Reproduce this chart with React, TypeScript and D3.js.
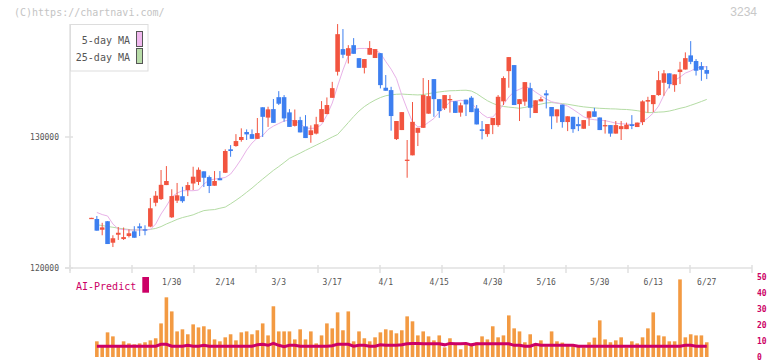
import React from 'react';
import * as d3 from 'd3';

// daily candles, oldest first (index 0 is the reference close with no volume)
const opens = [
  123800, 123740, 122920, 123570, 121930, 122540, 122210, 122440, 122800, 123180,
  122950, 123160, 124980, 125260, 126330, 123870, 125140, 125480, 125950, 126450,
  126570, 127380, 126940, 126280, 126850, 127270, 129060, 129310, 129770, 130380,
  130220, 129860, 132270, 131480, 132130, 133040, 133040, 131880, 130850, 131290,
  130810, 130150, 130260, 131140, 131750, 132990, 134980, 136710, 136200, 137010,
  136020, 135280, 136280, 136030, 136400, 133760, 133580, 129840, 130530, 128190,
  128600, 130320, 130700, 131780, 134420, 132890, 132190, 132880, 132730, 131860,
  132850, 133000, 132180, 130590, 130220, 130910, 130910, 132720, 135030, 135490,
  132510, 132700, 133730, 131830, 132720, 133330, 132290, 131580, 132470, 131140,
  131540, 130980, 130630, 131470, 131960, 131490, 130890, 130910, 130260, 130600,
  130600, 130970, 130760, 131140, 132700, 132510, 133200, 134140, 134860, 133960,
  134960, 135150, 136230, 135800, 135410, 135110,
];
const highs = [
  123830, 123970, 123450, 123570, 122500, 123130, 123090, 122950, 123190, 123410,
  123260, 125340, 125870, 127480, 127780, 126010, 126490, 126200, 126560, 127730,
  127680, 127380, 127060, 127400, 127400, 129060, 129380, 130220, 130660, 130580,
  130580, 131450, 132270, 132310, 132900, 133500, 133200, 132130, 132100, 131540,
  131670, 130890, 131540, 132740, 133020, 134210, 138620, 138240, 137010, 137550,
  136020, 135950, 137320, 136710, 136400, 134730, 133830, 131220, 131900, 129770,
  132670, 130700, 134500, 134350, 134420, 132890, 133200, 133210, 132730, 132620,
  132850, 133120, 132440, 131220, 130990, 131450, 133200, 134630, 136100, 135490,
  132890, 134190, 134140, 132800, 133070, 133580, 132290, 132110, 132470, 131580,
  131540, 131540, 131290, 131960, 132230, 131490, 131290, 130910, 131220, 131220,
  131100, 131670, 131100, 132800, 133070, 133200, 135030, 135110, 134860, 134780,
  135740, 136460, 137320, 135950, 135720, 135410,
];
const lows = [
  123800, 122850, 122500, 121830, 121600, 122140, 122140, 122330, 122310, 122440,
  122500, 123110, 124710, 125190, 126330, 123820, 124960, 124980, 125490, 125950,
  126330, 126180, 125720, 126280, 126700, 127250, 128490, 129260, 129640, 129770,
  129860, 129860, 130000, 130770, 131080, 132440, 131160, 130770, 130800, 130350,
  129920, 129560, 130200, 131140, 131750, 132990, 134690, 136020, 135610, 136350,
  135280, 134850, 136280, 136030, 133710, 133530, 130480, 129770, 130530, 126890,
  128600, 129310, 130700, 131780, 131540, 131460, 132060, 131860, 131840, 131550,
  131600, 131900, 130960, 129820, 130020, 130220, 130780, 132440, 133760, 132440,
  131220, 132380, 131460, 131830, 132720, 132180, 130600, 131090, 130710, 130450,
  130320, 130450, 130630, 130850, 131540, 130530, 130260, 130020, 130260, 129770,
  130600, 130600, 130760, 130910, 131860, 131900, 133150, 133150, 133710, 133450,
  134040, 135150, 135560, 134690, 134290, 134420,
];
const closes = [
  123830, 122850, 123100, 121830, 122270, 122690, 122360, 122650, 122310, 123030,
  122850, 124560, 125520, 126350, 126640, 125490, 125550, 125100, 126330, 126970,
  127500, 126890, 126260, 126640, 126700, 128930, 128930, 129690, 130000, 130200,
  129860, 130300, 131540, 132110, 131080, 132540, 131420, 130770, 131290, 130350,
  129920, 130510, 130970, 132130, 132440, 133730, 137850, 136280, 136780, 136350,
  135280, 135950, 136790, 136710, 133960, 133530, 131600, 131220, 131900, 128270,
  131160, 130700, 133200, 133120, 132890, 131980, 133200, 132900, 131840, 132420,
  132490, 131900, 130960, 130460, 130990, 131450, 133070, 134500, 136100, 132440,
  132890, 134190, 132230, 132800, 132890, 133180, 131580, 132110, 131140, 131580,
  130600, 130830, 131290, 131960, 131540, 130530, 130910, 130260, 130910, 130830,
  130940, 130840, 131100, 132720, 132820, 133200, 134340, 134860, 134040, 134780,
  135150, 136020, 135740, 135060, 135130, 134830,
];

const ma5 = [
  null, 124240, 124080, 123970, 123360, 122980, 122940, 122900, 122900, 122900,
  122900, 122940, 123360, 124120, 124730, 125420, 125720, 125900, 125900, 125900,
  125950, 126410, 126710, 126790, 126840, 126910, 127170, 127710, 128320, 129000,
  129540, 129920, 130110, 130570, 130830, 131030, 131220, 131290, 131220, 131030,
  130680, 130660, 130680, 130950, 131670, 132590, 133890, 135110, 136180, 136670,
  136760, 136760, 136760, 136630, 136400, 135760, 135180, 134460, 133200, 132130,
  131140, 130780, 130830, 131120, 131410, 131900, 132250, 132690, 132740, 132800,
  132740, 132590, 132170, 131750, 131480, 131520, 131980, 132480, 133050, 133470,
  133640, 133830, 133730, 133430, 133160, 132900, 132690, 132600, 132500, 132360,
  132110, 131830, 131540, 131380, 131320, 131280, 131250, 131160, 131050, 131010,
  130990, 130950, 130930, 131160, 131450, 131830, 132360, 133200, 133890, 134310,
  134570, 134880, 135040, 135260, 135360, 135360,
];
const ma25 = [
  null, 123300, 123240, 123170, 123110, 123040, 122990, 122940, 122900, 122910,
  122920, 122950, 123020, 123160, 123360, 123530, 123710, 123850, 123950, 124060,
  124230, 124380, 124430, 124460, 124560, 124650, 124900, 125170, 125460, 125780,
  126100, 126450, 126790, 127120, 127450, 127740, 128050, 128370, 128570, 128770,
  128980, 129180, 129380, 129580, 129790, 130000, 130190, 130640, 131100, 131560,
  131980, 132320, 132590, 132820, 133010, 133150, 133220, 133260, 133280, 133250,
  133230, 133210, 133240, 133310, 133380, 133440, 133490, 133530, 133540, 133560,
  133570, 133510, 133310, 133030, 132770, 132570, 132410, 132330, 132280, 132240,
  132190, 132260, 132350, 132430, 132510, 132600, 132630, 132590, 132550, 132500,
  132430, 132360, 132300, 132260, 132220, 132190, 132170, 132150, 132140, 132110,
  132100, 132060, 132010, 131940, 131860, 131870, 131900, 131920, 131980, 132080,
  132190, 132280, 132420, 132560, 132710, 132870,
];

const volumes = [
  null, 9.8, 6.7, 15.4, 12.9, 6.7, 9.8, 8.5, 7.9, 8.5,
  9.2, 10.4, 11.7, 21, 37.3, 28.5, 16, 17.3, 14.2, 20.4,
  18.5, 19.2, 17.3, 11, 9.8, 12.3, 14.2, 10.4, 15.4, 16,
  14.2, 16.7, 21, 13.5, 31.7, 16, 16, 16, 11, 17.3,
  11, 16, 8.5, 13.5, 21, 17.9, 27.9, 16.7, 28.5, 9.8,
  16, 11.7, 9.8, 12.3, 15.4, 17.3, 16.7, 14.8, 16.7, 25.4,
  22.3, 13.5, 16, 12.9, 10.4, 13.5, 6, 11.7, 8.5, 4.8,
  7.9, 7.3, 9.2, 12.9, 11, 19.2, 12.3, 13.5, 26, 17.9,
  16, 9.2, 14.2, 7.9, 10.4, 6.7, 16, 9.8, 9, 7.5,
  7, 6.5, 6, 9.2, 12.1, 22.9, 11, 9.2, 10.4, 12.3,
  6, 9.8, 8.5, 12.3, 17.9, 27.9, 13.5, 12.9, 9.8, 9.8,
  48.5, 12.3, 14.2, 13.5, 13.5, 9.2,
];
const aiPredict = [
  null, 6.7, 6.7, 6.7, 6.7, 6.7, 6.7, 6.7, 6.7, 6.7,
  6.7, 6.7, 6.7, 7.9, 7.9, 6.7, 6.7, 6.7, 7.3, 6.7,
  6.7, 7.3, 6.7, 6.7, 6.7, 6.7, 6.7, 6.7, 6.7, 6.7,
  6.7, 7.6, 7.9, 7.3, 8.5, 7.3, 6.5, 7.3, 7.3, 6.7,
  6.7, 6.7, 6.7, 6.7, 6.7, 7.0, 7.9, 7.9, 7.9, 6.7,
  7.3, 7.3, 6.7, 6.7, 7.6, 7.3, 7.3, 7.3, 7.6, 8.3,
  8.5, 8.5, 8.3, 8.3, 8.3, 8.3, 7.6, 8.5, 8.3, 8.3,
  8.5, 7.6, 8.3, 8.3, 8.3, 8.3, 8.3, 8.3, 8.3, 7.3,
  7.3, 6.7, 6.7, 7.9, 7.3, 7.3, 7.3, 7.3, 7.3, 7.3,
  7.3, 6.7, 6.7, 6.7, 6.7, 6.7, 6.7, 6.7, 6.7, 6.7,
  6.7, 6.7, 6.7, 6.7, 6.7, 6.7, 6.7, 6.7, 6.7, 6.7,
  6.7, 7.3, 7.3, 6.7, 6.7, 6.7,
];

const dateLabels = ['1/30', '2/14', '3/3', '3/17', '4/1', '4/15', '4/30', '5/16', '5/30', '6/13', '6/27'];
const dateIndex = [15, 25, 35, 45, 55, 65, 75, 85, 95, 105, 115];
const priceTicks = [120000, 130000];
const volumeTicks = [0, 10, 20, 30, 40, 50];

const RED = '#f2543f';
const BLUE = '#3d7ff0';
const PINK = '#e8b2e8';
const GREEN = '#b4dca4';
const ORANGE = '#f39a42';
const CRIMSON = '#cc0066';
const AXIS = '#e0e0e0';
const MONO = "'DejaVu Sans Mono', monospace";

export default function App() {
  const x = d3.scaleLinear().domain([0, closes.length - 1]).range([91.5, 706.75]);
  const y = d3.scaleLinear().domain([120000, 130000]).range([268, 137]);
  const yv = d3.scaleLinear().domain([0, 50]).range([357, 277]);
  const grid = d3.scaleLinear().domain([0, 11]).range([70, 752]);

  const priceLine = d3.line<number | null>()
    .defined(d => d != null)
    .x((d, i) => x(i))
    .y(d => y(d as number));
  const volLine = d3.line<number | null>()
    .defined(d => d != null)
    .x((d, i) => x(i))
    .y(d => yv(d as number));

  const bodyW = 4.6;
  const barW = 3.6;

  return (
    <svg width={772} height={361} style={{ position: 'absolute', left: 0, top: 0, background: '#fff' }}
      fontFamily={MONO}>
      <rect x={0} y={0} width={772} height={361} fill="#fff" />

      <text x={14} y={15.5} fontSize={10} fill="#c4c4c4">(C)https://chartnavi.com/</text>
      <text x={757} y={16} fontSize={12} fill="#c8c8c8" textAnchor="end"
        fontFamily="'Liberation Sans', sans-serif">3234</text>

      {/* axes frame */}
      <line x1={70} x2={70} y1={24} y2={271} stroke={AXIS} strokeWidth={1.5} />
      <line x1={65} x2={752} y1={268} y2={268} stroke={AXIS} strokeWidth={1.5} />
      {d3.range(12).map(i => (
        <line key={'g' + i} x1={grid(i)} x2={grid(i)} y1={265} y2={273} stroke={AXIS} strokeWidth={1.5} />
      ))}
      {priceTicks.map(p => (
        <g key={'p' + p}>
          <line x1={65} x2={73} y1={y(p)} y2={y(p)} stroke={AXIS} strokeWidth={1.5} />
          <text x={59} y={y(p) + 3} fontSize={8} fill="#555" textAnchor="end">{p}</text>
        </g>
      ))}

      {/* legend */}
      <rect x={70.5} y={24.5} width={77.5} height={46.5} fill="#fff" stroke="#ddd" />
      <text x={130} y={44} fontSize={10} fill="#555" textAnchor="end">5-day MA</text>
      <rect x={136.5} y={31.5} width={6} height={15} fill="#f0b8ee" stroke="#555" />
      <text x={130} y={60.5} fontSize={10} fill="#555" textAnchor="end">25-day MA</text>
      <rect x={136.5} y={48.5} width={6} height={15} fill="#b8dca8" stroke="#555" />

      {/* moving averages */}
      <path d={priceLine(ma25) || ''} fill="none" stroke={GREEN} strokeWidth={1} />
      <path d={priceLine(ma5) || ''} fill="none" stroke={PINK} strokeWidth={1} />

      {/* candles */}
      {closes.map((c, i) => {
        const o = opens[i];
        const up = c >= o;
        const col = up ? RED : BLUE;
        const top = y(Math.max(o, c));
        const h = Math.max(1.3, Math.abs(y(o) - y(c)));
        return (
          <g key={'c' + i}>
            <line x1={x(i)} x2={x(i)} y1={y(highs[i])} y2={y(lows[i])} stroke={col} strokeWidth={1} />
            <rect x={x(i) - bodyW / 2} y={top} width={bodyW} height={h} fill={col} />
          </g>
        );
      })}

      {/* date labels */}
      {dateLabels.map((t, k) => (
        <text key={'d' + t} x={x(dateIndex[k])} y={285} fontSize={8} fill="#555" textAnchor="middle">{t}</text>
      ))}

      {/* volume panel */}
      <text x={76} y={290} fontSize={10} fill={CRIMSON}>AI-Predict</text>
      <rect x={142.3} y={277} width={6.7} height={15.7} fill={CRIMSON} />
      {volumes.map((v, i) => v == null ? null : (
        <rect key={'v' + i} x={x(i) - barW / 2} y={yv(v)} width={barW} height={yv(0) - yv(v)} fill={ORANGE} />
      ))}
      <path d={volLine(aiPredict) || ''} fill="none" stroke={CRIMSON} strokeWidth={3} />
      {volumeTicks.map(v => (
        <text key={'vt' + v} x={757} y={yv(v) + 3} fontSize={8} fontWeight="bold" fill={CRIMSON}>{v}</text>
      ))}
    </svg>
  );
}
